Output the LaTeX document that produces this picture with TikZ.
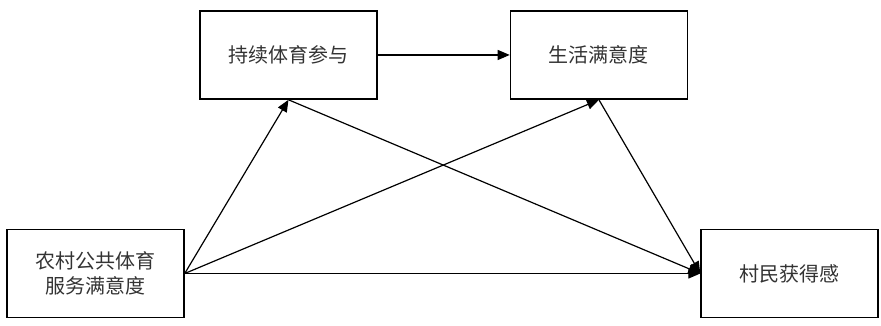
\documentclass[tikz,border=0pt]{standalone}
\usepackage{fontspec}
\setmainfont{Noto Sans CJK SC}
\usetikzlibrary{arrows.meta,positioning}

\begin{document}
\begin{tikzpicture}[
  box/.style={rectangle, draw, line width=0.7pt, minimum width=3.11cm, minimum height=1.55cm, align=center, font=\fontsize{10}{12.5}\selectfont, text=black!80},
  arrow/.style={-{Triangle[length=6pt,width=5pt]}, line width=0.6pt}
]
  \useasboundingbox (0,0) rectangle (15.48,5.728);
  \node[box] (rural) at (1.678,0.922) {农村公共体育\\服务满意度};
  \node[box] (sport) at (5.069,4.762) {持续体育参与};
  \node[box, right=2.32cm of sport] (life) {生活满意度};
  \node[box] (gain) at (13.872,0.922) {村民获得感};
  \draw[arrow] (sport) -- (life);
  \draw[arrow] (rural.east) -- (sport.south);
  \draw[arrow] (rural.east) -- (life.south);
  \draw[arrow] (rural.east) -- (gain.west);
  \draw[arrow] (sport.south) -- (gain.west);
  \draw[arrow] (life.south) -- (gain.west);
\end{tikzpicture}
\end{document}
